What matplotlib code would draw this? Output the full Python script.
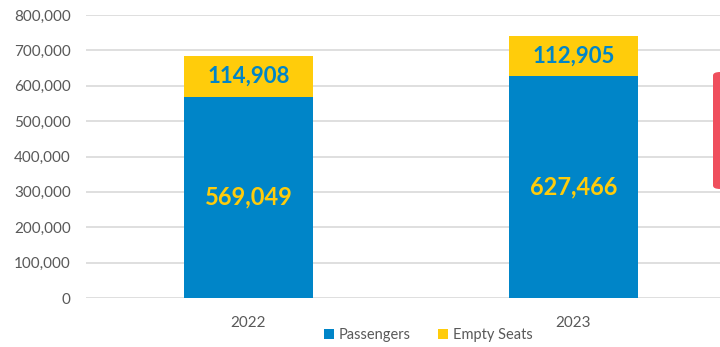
import matplotlib.pyplot as plt
from matplotlib.patches import FancyBboxPatch
from matplotlib.ticker import FuncFormatter

years = ["2022", "2023"]
passengers = [569049, 627466]
empty_seats = [114908, 112905]

blue = "#0085C8"
yellow = "#FFCC0B"
grey = "#595959"

plt.rcParams['font.family'] = ['Lato', 'DejaVu Sans']

fig = plt.figure(figsize=(7.2, 3.47), dpi=100)
W, H = 720, 347
ax = fig.add_axes([86 / W, 1 - 298 / H, (736 - 86) / W, (298 - 15) / H])

x = list(range(len(years)))
w = 0.397
ax.bar(x, passengers, width=w, color=blue, label="Passengers", zorder=3)
ax.bar(x, empty_seats, width=w, bottom=passengers, color=yellow, label="Empty Seats", zorder=3)

for i in x:
    ax.text(i, passengers[i] / 2, f"{passengers[i]:,}", ha="center", va="center",
            color=yellow, fontsize=17, fontweight="bold", zorder=4)
    ax.text(i, passengers[i] + empty_seats[i] / 2, f"{empty_seats[i]:,}", ha="center", va="center",
            color=blue, fontsize=16, fontweight="bold", zorder=4)

ax.set_xlim(-0.5, 1.5)
ax.set_ylim(0, 800000)
ax.set_yticks(range(0, 800001, 100000))
ax.yaxis.set_major_formatter(FuncFormatter(lambda v, p: f"{int(v):,}"))
ax.set_xticks(x)
ax.set_xticklabels(years)
ax.grid(axis="y", color="#D9D9D9", linewidth=1.2, zorder=0)
for s in ax.spines.values():
    s.set_visible(False)
ax.tick_params(axis="both", length=0, colors=grey, labelsize=11)
ax.tick_params(axis="x", pad=13)
ax.tick_params(axis="y", pad=11)

leg = fig.legend(loc="center", bbox_to_anchor=(428 / W, 1 - 335 / H), ncol=2, frameon=False,
                 fontsize=10.5, handlelength=0.7, handleheight=0.7, handletextpad=0.3,
                 columnspacing=1.9, labelcolor=grey)

rect = FancyBboxPatch((713 / W, 1 - 189 / H), 30 / W, 117 / H,
                      boxstyle="round,pad=0,rounding_size=0.01",
                      transform=fig.transFigure, facecolor="#EF4F5D", edgecolor="none")
fig.patches.append(rect)

fig.savefig("out.png", dpi=100)
